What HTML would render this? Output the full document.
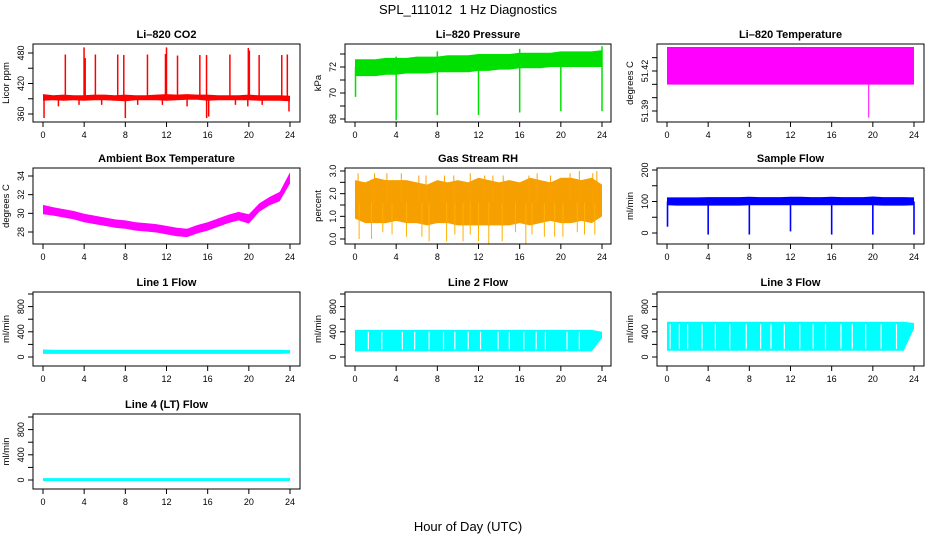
<!DOCTYPE html>
<html><head><meta charset="utf-8"><style>
body{margin:0;background:#fff}
svg text{font-family:"Liberation Sans",sans-serif}
</style></head><body>
<svg id="c" width="936" height="540" xmlns="http://www.w3.org/2000/svg">
<text x="468" y="14" font-size="13" text-anchor="middle">SPL_111012&#160; 1 Hz Diagnostics</text>
<text x="468" y="531" font-size="13" text-anchor="middle">Hour of Day (UTC)</text>
</svg>
<script>
// ---- data ----
const hrs = [0,1,2,3,4,5,6,7,8,9,10,11,12,13,14,15,16,17,18,19,20,21,22,23,24];
const xTicks = [0,4,8,12,16,20,24];
// CO2
const co2Lo = [386,387,386,387,386,387,387,386,385,387,387,387,386,387,388,388,386,387,387,387,387,386,386,386,385];
const co2Hi = [399,397,398,397,397,398,398,397,398,397,397,398,399,398,399,398,398,397,397,397,398,397,397,397,396];
const co2SpikeH = [2.17,3.99,4.1,5.09,7.26,7.85,10.15,11.9,12.0,13.07,15.24,15.89,18.16,19.95,20.05,21.0,23.2,23.74];
const co2SpikeV = [477,491,470,477,477,476,477,478,491,475,476,476,477,490,485,476,476,477];
const co2DipH = [0.1,1.5,3.5,5.7,8.0,9.2,11.6,14.0,15.9,16.1,18.7,19.9,21.3,23.9];
const co2DipV = [352,375,378,378,352,378,378,375,352,355,378,375,378,365];
// Pressure
const presLo = [71.3,71.3,71.3,71.4,71.4,71.5,71.5,71.5,71.6,71.6,71.6,71.6,71.7,71.7,71.8,71.8,71.9,71.9,71.9,72.0,72.0,72.0,72.0,72.0,72.0];
const presHi = [72.6,72.6,72.6,72.7,72.7,72.7,72.8,72.8,72.8,72.9,72.9,72.9,73.0,73.0,73.0,73.0,73.1,73.1,73.1,73.1,73.2,73.2,73.2,73.2,73.3];
const presDipH = [0.05,4.0,8.0,12.0,16.0,20.0,24.0];
const presDipV = [69.7,67.9,68.3,68.3,68.5,68.6,68.6];
const presUpH = [4.0,8.0,12.0,16.0,20.0,24.0];
const presUpV = [72.8,73.2,73.0,73.4,73.2,73.6];
// Li-820 temperature
const tmpLo = 51.4098, tmpHi = 51.438;
const tmpDipH = 19.6, tmpDipV = 51.385;
// Ambient box temperature
const ambMid = [30.4,30.2,30.0,29.8,29.5,29.3,29.1,28.9,28.8,28.6,28.5,28.4,28.2,28.0,27.9,28.3,28.6,29.0,29.4,29.7,29.4,30.6,31.3,31.8,33.8];
const ambHalf = [0.5,0.45,0.45,0.45,0.45,0.45,0.45,0.45,0.45,0.45,0.45,0.45,0.45,0.45,0.45,0.45,0.45,0.45,0.45,0.45,0.5,0.45,0.45,0.5,0.6];
// Gas stream RH
const rhLo = [0.9,0.7,0.7,0.7,0.8,0.7,0.7,0.6,0.7,0.7,0.6,0.6,0.6,0.6,0.6,0.6,0.7,0.6,0.7,0.8,0.7,0.7,0.8,0.7,1.0];
const rhHi = [2.6,2.5,2.7,2.6,2.6,2.6,2.5,2.4,2.6,2.5,2.6,2.5,2.7,2.6,2.5,2.6,2.5,2.7,2.6,2.5,2.7,2.7,2.6,2.7,2.4];
const rhSpikeH = [0.3,1.9,3.1,4.5,6.2,6.9,8.7,9.6,11.2,12.6,13.4,14.4,16.9,17.7,19.0,20.9,21.8,23.1,23.5];
const rhSpikeV = [2.9,2.9,2.9,2.9,2.8,2.8,2.8,2.8,2.9,2.8,2.8,2.8,2.8,2.9,2.8,2.9,3.0,2.9,3.0];
const rhDropH = [0.4,1.6,2.7,3.6,5.0,6.5,7.2,8.9,9.7,10.5,11.2,12.0,13.0,14.3,15.6,16.6,17.2,18.4,19.4,20.2,21.6,22.3,23.3];
const rhDropV = [0.0,0.0,0.3,0.2,0.1,0.1,-0.1,-0.1,0.2,-0.1,0.2,-0.1,-0.2,-0.1,0.3,-0.2,0.2,0.1,0.1,0.1,0.3,0.2,0.2];
// Sample flow
const sfLo = [88,87,87,87,87,87,87,87,88,88,88,88,88,88,88,88,88,88,88,88,88,87,87,87,88];
const sfHi = [113,113,113,113,114,114,114,114,115,114,114,114,115,115,114,114,115,114,114,114,116,114,114,114,113];
const sfDipH = [0.05,4.0,8.0,12.0,16.0,20.0,24.0];
const sfDipV = [20,-5,-5,5,-5,-5,-5];
// Line flows
const l1Lo = [50,50,50,50,50,50,50,50,50,50,50,50,50,50,50,50,50,50,50,50,50,50,50,50,55];
const l1Hi = [120,115,115,115,115,115,115,115,115,115,115,115,115,115,115,115,115,115,115,115,115,115,115,115,110];
const l2Lo = [90,90,90,90,90,90,90,90,90,90,90,90,90,90,90,90,90,90,90,90,90,90,90,90,300];
const l2Hi = [430,430,430,430,430,430,430,430,430,430,430,430,430,430,430,430,430,430,430,430,430,430,430,430,400];
const l2Gap = [1.3,2.6,4.6,5.8,7.2,8.6,9.7,11.0,12.2,13.9,15.0,16.4,17.6,18.5,20.6,21.8];
const l3Lo = [100,100,100,100,100,100,100,100,100,100,100,100,100,100,100,100,100,100,100,100,100,100,100,100,450];
const l3Hi = [560,560,560,560,560,560,560,560,560,560,560,560,560,560,560,560,560,560,560,560,560,560,560,560,540];
const l3Gap = [0.3,1.2,2.0,3.4,4.7,6.1,7.7,9.1,10.1,11.4,12.9,14.2,15.4,16.9,18.0,19.3,20.8,22.3];
const l4Lo = [-15,-15,-15,-15,-15,-15,-15,-15,-15,-15,-15,-15,-15,-15,-15,-15,-15,-15,-15,-15,-15,-15,-15,-15,-15];
const l4Hi = [30,30,30,30,30,30,30,30,30,30,30,30,30,30,30,30,30,30,30,30,30,30,30,30,30];

// ---- drawing ----
const svg = document.getElementById('c');
const NS = 'http://www.w3.org/2000/svg';
function mk(tag, attrs, parent){const e=document.createElementNS(NS,tag);for(const k in attrs)e.setAttribute(k,attrs[k]);(parent||svg).appendChild(e);return e;}
const cols=[{l:33,r:300,x0:43,x1:290},{l:345,r:611,x0:355,x1:602},{l:657,r:924,x0:667,x1:914}];
const rows=[{t:44,b:122},{t:168,b:244},{t:292,b:366},{t:414,b:489}];

function panel(name,title,ylab,ci,ri,v1,p1,v2,p2,yt,ylabels,draw){
  const c=cols[ci],r=rows[ri];
  const g=mk('g',{});
  
  
  const X=h=>c.x0+(c.x1-c.x0)*h/24;
  const Y=v=>p1+(v-v1)*(p2-p1)/(v2-v1);
  const clip=mk('clipPath',{id:'cp'+name},g);mk('rect',{x:c.l,y:r.t,width:c.r-c.l,height:r.b-r.t},clip);
  const dg=mk('g',{'clip-path':'url(#cp'+name+')'},g);
  
  
  draw(dg,X,Y);
  const box=mk('rect',{x:c.l,y:r.t,width:c.r-c.l,height:r.b-r.t,fill:'none',stroke:'#000','stroke-width':1},g);
  
  
  const tt=mk('text',{x:(c.l+c.r)/2,y:r.t-6,'font-size':11,'font-weight':'bold','text-anchor':'middle'},g);tt.textContent=title;
  
  
  xTicks.forEach(h=>{mk('line',{x1:X(h),x2:X(h),y1:r.b,y2:r.b+5,stroke:'#000'},g);
    const t=mk('text',{x:X(h),y:r.b+16,'font-size':9,'text-anchor':'middle'},g);t.textContent=h;
    
    });
  yt.forEach((v,i)=>{const y=Y(v);if(y<r.t-1||y>r.b+1)return;mk('line',{x1:c.l-5,x2:c.l,y1:y,y2:y,stroke:'#000'},g);
    if(ylabels[i]){const t=mk('text',{x:0,y:0,'font-size':9,'text-anchor':'middle',transform:`translate(${c.l-9},${y}) rotate(-90)`},g);t.textContent=ylabels[i];
    
    }});
  const yl=mk('text',{x:0,y:0,'font-size':9.5,'text-anchor':'middle',transform:`translate(${c.l-24},${(r.t+r.b)/2}) rotate(-90)`},g);yl.textContent=ylab;
  
  
}
function band(g,X,Y,lo,hi,fill){
  let pts=hrs.map((h,i)=>X(h)+','+Y(hi[i]));
  pts=pts.concat(hrs.map((h,i)=>X(h)+','+Y(lo[i])).reverse());
  const p=mk('polygon',{points:pts.join(' '),fill:fill},g);
  
  
}
function spikes(g,X,Y,hs,vs,base,col,w){
  hs.forEach((h,i)=>{const l=mk('line',{x1:X(h),x2:X(h),y1:Y(base),y2:Y(vs[i]),stroke:col,'stroke-width':w||1.3},g);
  
  });
}
function gaps(g,X,Y,hs,lo,hi){
  hs.forEach(h=>{const l=mk('line',{x1:X(h),x2:X(h),y1:Y(hi),y2:Y(lo),stroke:'#fff','stroke-width':1.2},g);
  
  });
}

panel('co2','Li\u2013820 CO2','Licor ppm',0,0,360,114,480,53,[360,390,420,450,480],['360','','420','','480'],(g,X,Y)=>{
  band(g,X,Y,co2Lo,co2Hi,'#ff0000');
  spikes(g,X,Y,co2SpikeH,co2SpikeV,392,'#ff0000',1.5);
  spikes(g,X,Y,co2DipH,co2DipV,390,'#ff0000',1.5);
});
panel('pressure','Li\u2013820 Pressure','kPa',1,0,68,119,72,67,[68,69,70,71,72,73],['68','','70','','72',''],(g,X,Y)=>{
  band(g,X,Y,presLo,presHi,'#00e000');
  spikes(g,X,Y,presDipH,presDipV,72,'#00e000',1.5);
  spikes(g,X,Y,presUpH,presUpV,72,'#00e000',1.5);
});
panel('li820-temp','Li\u2013820 Temperature','degrees C',2,0,51.39,111,51.42,71,[51.38,51.39,51.40,51.41,51.42,51.43],['','51.39','','','51.42',''],(g,X,Y)=>{
  const rr=mk('rect',{x:X(0),y:Y(tmpHi),width:X(24)-X(0),height:Y(tmpLo)-Y(tmpHi),fill:'#ff00ff'},g);
  
  
  const l=mk('line',{x1:X(tmpDipH),x2:X(tmpDipH),y1:Y(tmpLo),y2:Y(tmpDipV),stroke:'#ff00ff','stroke-width':1},g);
  
  
});
panel('ambient','Ambient Box Temperature','degrees C',0,1,28,232,34,176,[28,30,32,34],['28','30','32','34'],(g,X,Y)=>{
  band(g,X,Y,ambMid.map((m,i)=>m-ambHalf[i]),ambMid.map((m,i)=>m+ambHalf[i]),'#ff00ff');
});
panel('rh','Gas Stream RH','percent',1,1,0,239,3,171,[0,0.5,1,1.5,2,2.5,3],['0.0','','1.0','','2.0','','3.0'],(g,X,Y)=>{
  band(g,X,Y,rhLo,rhHi,'#f5a000');
  spikes(g,X,Y,rhSpikeH,rhSpikeV,1.6,'#ffa000',1);
  spikes(g,X,Y,rhDropH,rhDropV,1.6,'#ffb000',1);
});
panel('sample-flow','Sample Flow','ml/min',2,1,0,233,200,170,[0,50,100,150,200],['0','','100','','200'],(g,X,Y)=>{
  band(g,X,Y,sfLo,sfHi,'#0000ff');
  spikes(g,X,Y,sfDipH,sfDipV,100,'#0000ff',1.6);
});
const fT=[0,200,400,600,800,1000],fL=['0','','400','','800',''];
panel('line1','Line 1 Flow','ml/min',0,2,0,357,1000,294,fT,fL,(g,X,Y)=>{band(g,X,Y,l1Lo,l1Hi,'#00ffff');});
panel('line2','Line 2 Flow','ml/min',1,2,0,357,1000,294,fT,fL,(g,X,Y)=>{band(g,X,Y,l2Lo,l2Hi,'#00ffff');gaps(g,X,Y,l2Gap,120,400);});
panel('line3','Line 3 Flow','ml/min',2,2,0,357,1000,294,fT,fL,(g,X,Y)=>{band(g,X,Y,l3Lo,l3Hi,'#00ffff');gaps(g,X,Y,l3Gap,130,520);});
panel('line4','Line 4 (LT) Flow','ml/min',0,3,0,480,1000,417,fT,fL,(g,X,Y)=>{band(g,X,Y,l4Lo,l4Hi,'#00ffff');});
</script>
</body></html>
